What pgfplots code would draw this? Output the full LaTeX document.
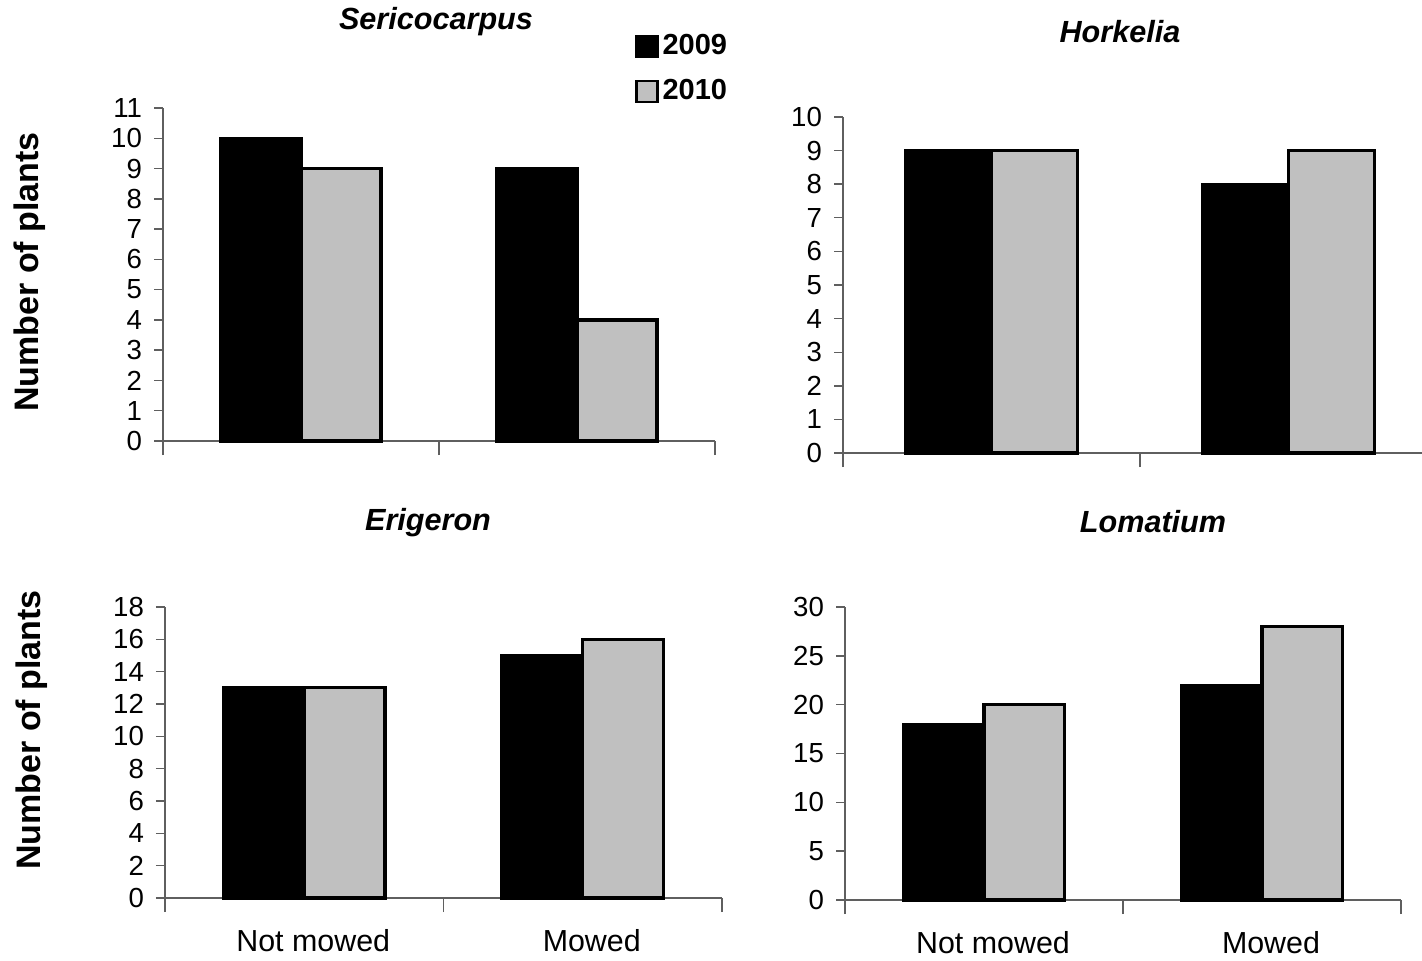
\documentclass[border=0pt]{standalone}
\usepackage{pgfplots}
\pgfplotsset{compat=1.18}
\usepackage{fontspec}
\setmainfont{Liberation Sans}
\definecolor{barg}{RGB}{192,192,192}
\definecolor{axg}{RGB}{95,95,95}
\pgfplotsset{
  panel/.style={
    scale only axis, ybar=0pt, bar width=0.29,
    xmin=-0.5, xmax=1.5, ymin=0,
    enlargelimits=false, clip=false,
    axis x line*=bottom, axis y line*=left,
    axis line style={axg, line width=0.7pt},
    xtick={0,1}, minor xtick={-0.5,0.5,1.5},
    major x tick style={draw=none},
    minor x tick style={axg, line width=0.7pt},
    minor tick length=7pt,
    tick align=outside,
    major y tick style={axg, line width=0.7pt},
    major tick length=4.5pt,
    /pgf/number format/assume math mode=true,
    yticklabel style={font=\fontsize{13.8}{15}\selectfont, xshift=-2.5pt},
    xticklabel style={font=\fontsize{15.2}{17}\selectfont, anchor=base, yshift=-22.3pt, xshift=4.5pt},
    anchor=south west,
  },
  b09/.style={fill=black, draw=black, line width=1.6pt,
    legend image code/.code={\draw[##1, line width=1.1pt] (0pt,-5.25pt) rectangle (10.5pt,5.25pt);}},
  b10/.style={fill=barg, draw=black, line width=1.6pt,
    legend image code/.code={\draw[##1, line width=1.1pt] (0pt,-5.25pt) rectangle (10.5pt,5.25pt);}},
}
\begin{document}
\begin{tikzpicture}
\useasboundingbox (0,0) rectangle (711pt,480pt);
% top left
\begin{axis}[panel, at={(81.5pt,259.5pt)}, width=276pt, height=166.5pt,
  ymax=11, ytick={0,1,...,11}, xticklabels={},
  legend style={at={(axis description cs:0.855,1.234)}, anchor=north west,
    draw=none, fill=none, inner sep=0pt, row sep=7pt, cells={anchor=west},
    font=\bfseries\fontsize{14.5}{16}\selectfont}]
\addplot[b09] coordinates {(0,10) (1,9)};
\addplot[b10] coordinates {(0,9) (1,4)};
\legend{2009,2010}
\end{axis}
% top right
\begin{axis}[panel, at={(421.5pt,253.5pt)}, width=297pt, height=168pt,
  ymax=10, ytick={0,1,...,10}, xticklabels={}]
\addplot[b09] coordinates {(0,9) (1,8)};
\addplot[b10] coordinates {(0,9) (1,9)};
\end{axis}
% bottom left
\begin{axis}[panel, at={(82.5pt,31pt)}, width=278.5pt, height=145.5pt,
  ymax=18, ytick={0,2,...,18}, xticklabels={Not mowed,Mowed}]
\addplot[b09] coordinates {(0,13) (1,15)};
\addplot[b10] coordinates {(0,13) (1,16)};
\end{axis}
% bottom right
\begin{axis}[panel, at={(422.5pt,30pt)}, width=278pt, height=146.5pt,
  ymax=30, ytick={0,5,...,30}, xticklabels={Not mowed,Mowed}]
\addplot[b09] coordinates {(0,18) (1,22)};
\addplot[b10] coordinates {(0,20) (1,28)};
\end{axis}
% titles
\node[font=\bfseries\itshape\fontsize{15.3}{18}\selectfont] at (218pt,469pt) {Sericocarpus};
\node[font=\bfseries\itshape\fontsize{15.3}{18}\selectfont] at (560pt,464pt) {Horkelia};
\node[font=\bfseries\itshape\fontsize{15.3}{18}\selectfont] at (214pt,218.5pt) {Erigeron};
\node[font=\bfseries\itshape\fontsize{15.3}{18}\selectfont] at (576.5pt,219pt) {Lomatium};
% y labels
\node[rotate=90, font=\bfseries\fontsize{17}{20}\selectfont] at (15pt,344pt) {Number of plants};
\node[rotate=90, font=\bfseries\fontsize{17}{20}\selectfont] at (16pt,115pt) {Number of plants};
\end{tikzpicture}
\end{document}
